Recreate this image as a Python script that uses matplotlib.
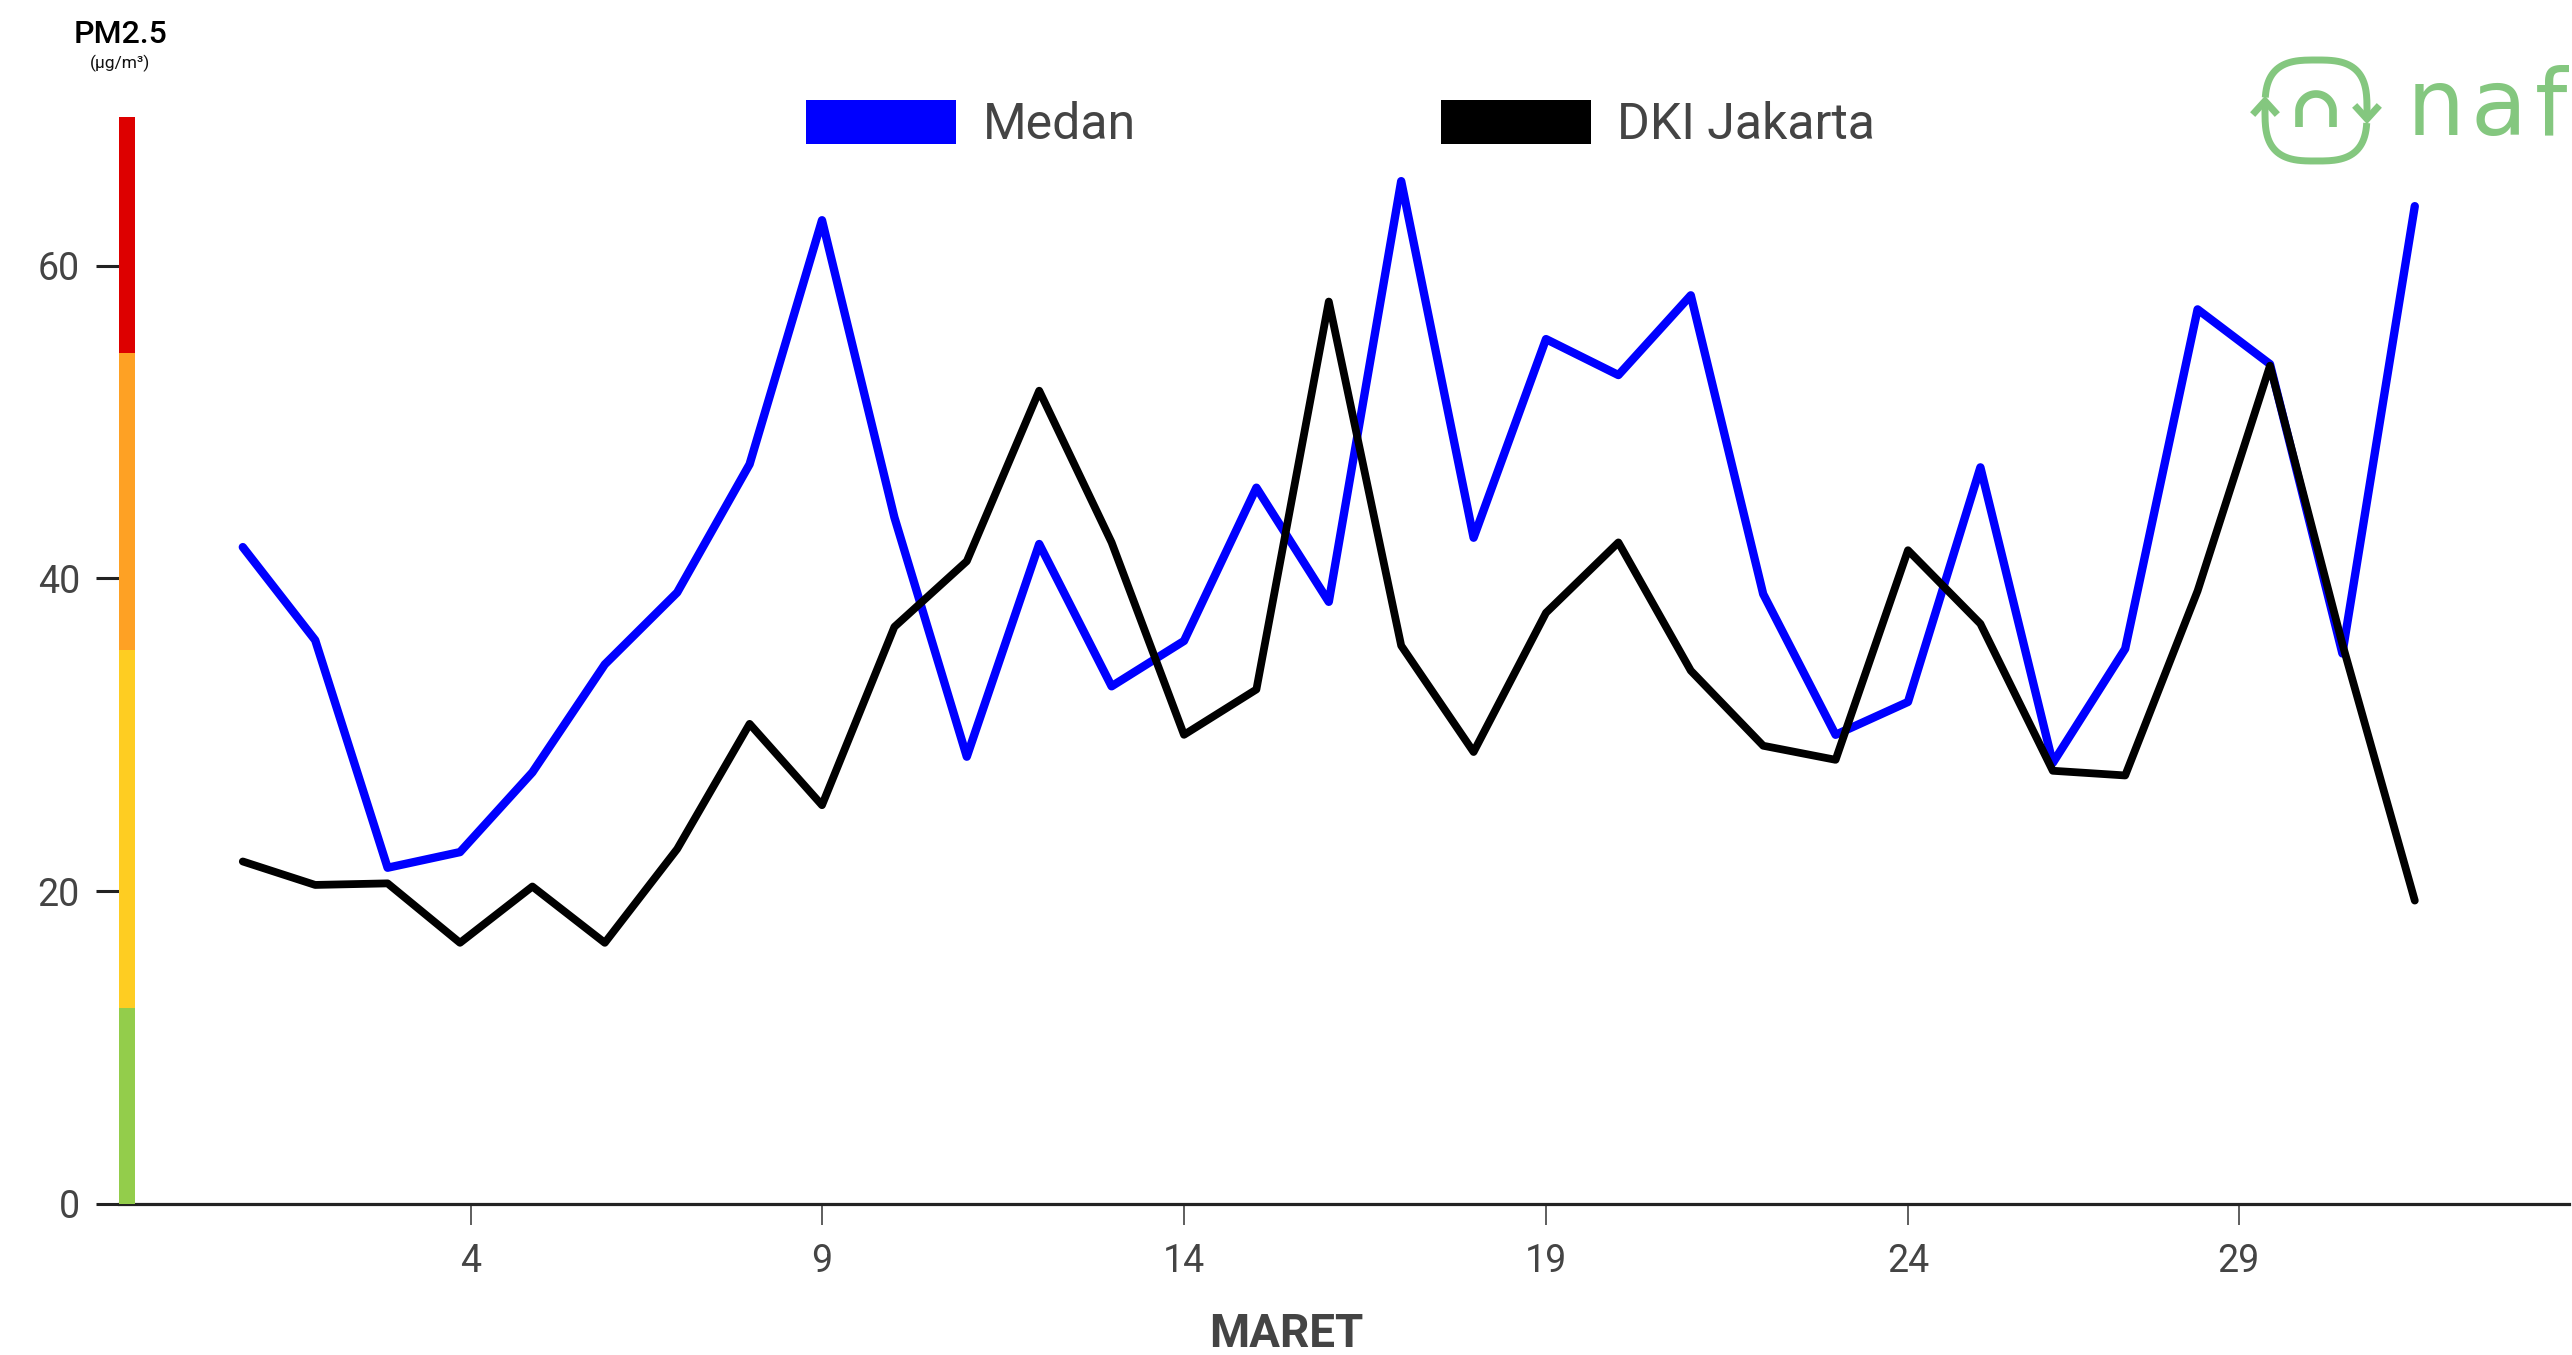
"""
PM2.5 harian Maret: Medan vs DKI Jakarta
"""
import numpy as np
import matplotlib
matplotlib.use("Agg")
import matplotlib.pyplot as plt
from matplotlib.patches import Rectangle, Patch
from matplotlib.transforms import blended_transform_factory

plt.rcParams["font.family"] = ["Roboto", "DejaVu Sans"]

# data
days = list(range(1, 32))
medan = [42.0, 36.05, 21.5, 22.5, 27.6, 34.5, 39.1, 47.3, 62.9, 43.9,
         28.6, 42.2, 33.1, 36.0, 45.8, 38.5, 65.4, 42.6, 55.3, 53.0,
         58.1, 39.0, 30.0, 32.1, 47.1, 28.2, 35.5, 57.2, 53.7, 35.2, 63.8]
jakarta = [21.9, 20.4, 20.5, 16.7, 20.3, 16.7, 22.7, 30.7, 25.5, 36.9,
           41.1, 52.0, 42.3, 30.0, 32.9, 57.7, 35.7, 28.9, 37.8, 42.3,
           34.1, 29.3, 28.4, 41.8, 37.1, 27.7, 27.4, 39.2, 53.6, 35.8, 19.4]

x_tick_pos = [4.15, 9, 14, 19, 24, 28.57]
x_tick_labels = ["4", "9", "14", "19", "24", "29"]
y_ticks = [0, 20, 40, 60]

# kategori kualitas udara (batas bawah/atas) untuk bar warna di sumbu y
band_edges = [0, 12.5, 35.4, 54.4, 69.5]
band_colors = ["#93cd4b", "#fecd22", "#fea124", "#dd0000"]

W, H = 2572, 1355
fig = plt.figure(figsize=(W / 100, H / 100), dpi=100)
ax = fig.add_axes([119 / W, 1 - 1204 / H, (2569 - 119) / W, (1204 - 117) / H])

ax.plot(days, medan, color="#0000ff", lw=6.0, solid_joinstyle="round",
        solid_capstyle="round", zorder=3)
ax.plot(days, jakarta, color="#000000", lw=5.6, solid_joinstyle="round",
        solid_capstyle="round", zorder=4)

ax.set_xlim(-0.71, 33.13)
ax.set_ylim(0, band_edges[-1])

for side in ["top", "right", "left"]:
    ax.spines[side].set_visible(False)
ax.spines["bottom"].set_color("#222222")
ax.spines["bottom"].set_linewidth(2.3)

ax.set_xticks(x_tick_pos, x_tick_labels)
ax.set_yticks(y_ticks)
ax.tick_params(axis="x", length=15, width=1.1, color="#333333", pad=13,
               labelsize=27, labelcolor="#444444")
ax.tick_params(axis="y", length=16.6, width=2.2, color="#222222", pad=11.5,
               labelsize=27, labelcolor="#444444")

# bar warna kategori
trans = blended_transform_factory(ax.transAxes, ax.transData)
bar_w = 16 / (2569 - 119)
for lo, hi, c in zip(band_edges[:-1], band_edges[1:], band_colors):
    ax.add_patch(Rectangle((0, lo), bar_w, hi - lo, transform=trans,
                           facecolor=c, lw=0, clip_on=False, zorder=5))

# judul sumbu
fig.text(120 / W, 1 - 43 / H, "PM2.5", ha="center", va="baseline",
         fontsize=23, fontweight="medium", color="black")
fig.text(120 / W, 1 - 68 / H, "(µg/m³)", ha="center", va="baseline",
         fontsize=12.5, color="#111111")
fig.text(0.5, 1 - 1347 / H, "MARET", ha="center", va="baseline",
         fontsize=33, fontweight="bold", color="#444444")

# legenda
handles = [Patch(facecolor="#0000ff", lw=0, label="Medan"),
           Patch(facecolor="#000000", lw=0, label="DKI Jakarta")]
leg = ax.legend(handles=handles, ncol=2, frameon=False, fontsize=36,
                loc="center left", bbox_to_anchor=(806 / W, 1 - 124.5 / H),
                bbox_transform=fig.transFigure, borderpad=0, borderaxespad=0,
                handlelength=3.0, handleheight=0.97, handletextpad=0.53,
                columnspacing=6.1)
for t in leg.get_texts():
    t.set_color("#444444")

# logo
green = "#84c77f"
lax = fig.add_axes([0, 0, 1, 1])
lax.set_xlim(0, W)
lax.set_ylim(H, 0)
lax.axis("off")

cx, cy, a, b = 2316, 110.5, 51, 50.5


def squircle(t0, t1):
    t = np.radians(np.linspace(t0, t1, 150))
    c, s = np.cos(t), np.sin(t)
    return (cx + a * np.sign(c) * np.abs(c) ** (2 / 3),
            cy - b * np.sign(s) * np.abs(s) ** (2 / 3))


for t0, t1 in [(-3, 172.5), (177.4, 352.9)]:
    xs, ys = squircle(t0, t1)
    lax.plot(xs, ys, color=green, lw=5, solid_capstyle="butt")
lax.plot([2255, 2265, 2275], [112, 101, 112], color=green, lw=5,
         solid_joinstyle="miter")
lax.plot([2357, 2367, 2377], [108, 119, 108], color=green, lw=5,
         solid_joinstyle="miter")

th = np.radians(np.linspace(180, 0, 60))
nx = np.concatenate([[2299], 2316 + 17 * np.cos(th), [2333]])
ny = np.concatenate([[127], 111 - 17 * np.sin(th), [127]])
lax.plot(nx, ny, color=green, lw=5.5, solid_capstyle="butt")

# huruf logo yang terlihat (terpotong di tepi kanan seperti aslinya)
for i, ch in enumerate("naf"):
    lax.text(2407 + 64 * i, 135, ch, ha="left", va="baseline", fontsize=66,
             color=green, family="DejaVu Sans")

fig.savefig("out.png", dpi=100)
